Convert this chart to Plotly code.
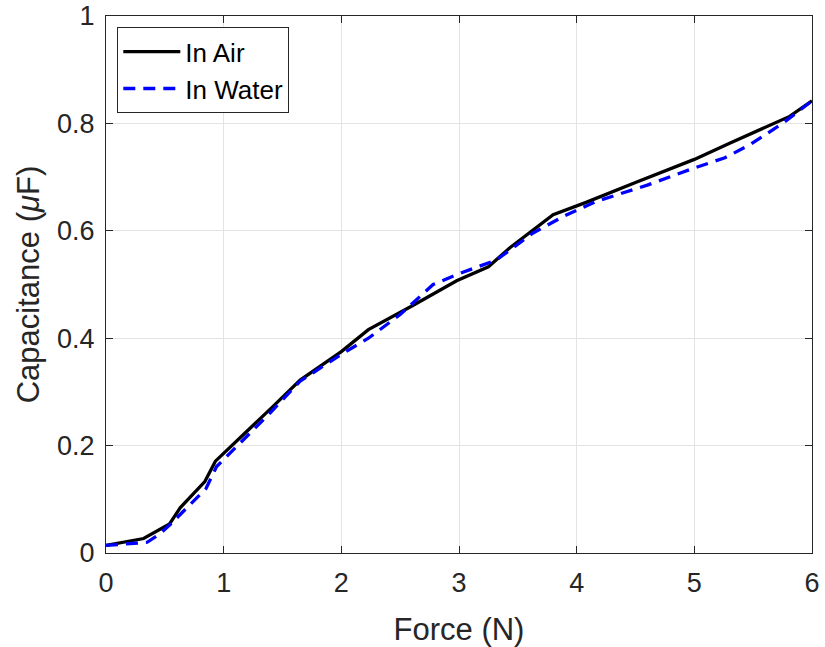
import plotly.graph_objects as go

air_x = [0, 0.32, 0.54, 0.63, 0.84, 0.93, 1.42, 1.65, 2.0, 2.23, 2.6, 2.98, 3.25, 3.43, 3.8, 4.08, 4.5, 5.0, 5.3, 5.81, 6.0]
air_y = [0.014, 0.027, 0.054, 0.084, 0.133, 0.171, 0.273, 0.322, 0.375, 0.416, 0.46, 0.507, 0.533, 0.568, 0.63, 0.653, 0.69, 0.733, 0.763, 0.813, 0.842]

water_x = [0, 0.35, 0.46, 0.55, 0.85, 0.94, 1.1, 1.4, 1.65, 2.0, 2.23, 2.5, 2.78, 3.0, 3.32, 3.63, 3.89, 4.17, 4.6, 5.0, 5.26, 5.47, 5.75, 5.92, 6.0]
water_y = [0.014, 0.02, 0.036, 0.054, 0.12, 0.161, 0.196, 0.262, 0.32, 0.37, 0.40, 0.444, 0.50, 0.52, 0.546, 0.596, 0.627, 0.655, 0.685, 0.717, 0.736, 0.76, 0.80, 0.829, 0.842]

x_ticks = [0, 1, 2, 3, 4, 5, 6]
y_ticks = [0, 0.2, 0.4, 0.6, 0.8, 1]
y_tick_labels = ["0", "0.2", "0.4", "0.6", "0.8", "1"]

font = "Liberation Sans, Arial, sans-serif"

fig = go.Figure()
fig.add_trace(go.Scatter(x=air_x, y=air_y, mode="lines", name="In Air",
                         line=dict(color="black", width=3.3)))
fig.add_trace(go.Scatter(x=water_x, y=water_y, mode="lines", name="In Water",
                         line=dict(color="#0000ff", width=3.3, dash="12px,8px")))

axis_common = dict(
    showline=True, linecolor="#262626", linewidth=1, mirror="ticks",
    ticks="inside", ticklen=7, tickcolor="#262626",
    showgrid=True, gridcolor="#e3e3e3", gridwidth=1, zeroline=False,
    tickfont=dict(family=font, size=27, color="#262626"),
    automargin=False,
)

fig.update_layout(
    width=825, height=647,
    margin=dict(l=106, r=13, t=16, b=94),
    paper_bgcolor="white", plot_bgcolor="white",
    font=dict(family=font, color="#262626"),
    xaxis=dict(range=[0, 6], tickvals=x_ticks, ticklabelstandoff=6,
               title=dict(text="Force (N)", font=dict(family=font, size=31, color="#262626"), standoff=20),
               **axis_common),
    yaxis=dict(range=[0, 1], tickvals=y_ticks, ticktext=y_tick_labels, ticklabelstandoff=5,
               title=dict(text="Capacitance (<i>μ</i>F)", font=dict(family=font, size=31, color="#262626"), standoff=8),
               **axis_common),
    legend=dict(x=0.016, y=0.979, xanchor="left", yanchor="top",
                bgcolor="white", bordercolor="#262626", borderwidth=1,
                font=dict(family=font, size=26, color="black"),
                tracegroupgap=0, itemwidth=57),
    showlegend=True,
)

fig.write_html("out.html")
